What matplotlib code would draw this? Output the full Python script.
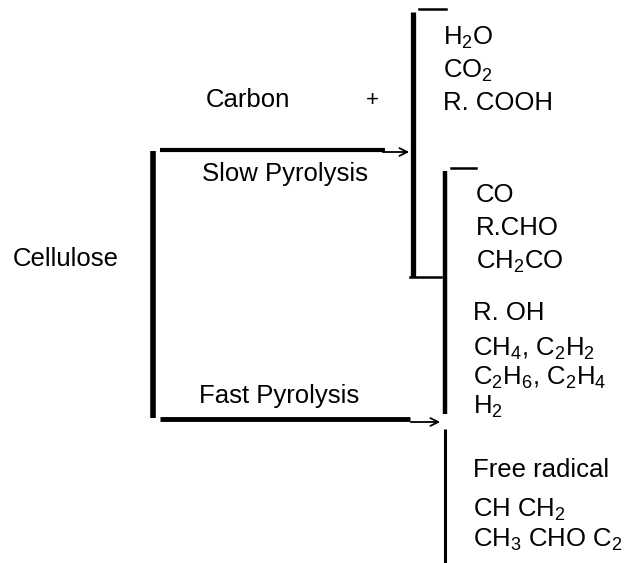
import matplotlib
matplotlib.use("Agg")
import matplotlib.pyplot as plt

plt.rcParams['font.family'] = ['Liberation Sans', 'DejaVu Sans']
plt.rcParams['mathtext.fontset'] = 'custom'
plt.rcParams['mathtext.rm'] = 'Liberation Sans'
plt.rcParams['mathtext.it'] = 'Liberation Sans:italic'
plt.rcParams['mathtext.bf'] = 'Liberation Sans:bold'

# ---- content ----
feedstock = "Cellulose"
routes = ["Slow Pyrolysis", "Fast Pyrolysis"]
slow_solid = "Carbon"
slow_only = [r"H$_{\mathrm{2}}$O", r"CO$_{\mathrm{2}}$", "R. COOH"]
shared = ["CO", "R.CHO", r"CH$_{\mathrm{2}}$CO"]
fast_only = ["R. OH",
             r"CH$_{\mathrm{4}}$, C$_{\mathrm{2}}$H$_{\mathrm{2}}$",
             r"C$_{\mathrm{2}}$H$_{\mathrm{6}}$, C$_{\mathrm{2}}$H$_{\mathrm{4}}$",
             r"H$_{\mathrm{2}}$"]
radical_title = "Free radical"
radicals = [r"CH CH$_{\mathrm{2}}$", r"CH$_{\mathrm{3}}$ CHO C$_{\mathrm{2}}$"]

# ---- layout (pixels) ----
W, H = 638, 563
fig = plt.figure(figsize=(W / 100, H / 100), dpi=100)
ax = fig.add_axes([0, 0, 1, 1])
ax.set_xlim(0, W)
ax.set_ylim(H, 0)
ax.axis('off')

fs = 18.5
k = 'black'

# feedstock
ax.text(13, 259, feedstock, fontsize=fs, va='center', ha='left', color=k)

# left trunk
ax.plot([153, 153], [151, 418], color=k, lw=4, solid_capstyle='butt')
# slow route
ax.plot([160, 385], [150, 150], color=k, lw=3, solid_capstyle='butt')
ax.annotate('', xy=(412, 152), xytext=(380, 152),
            arrowprops=dict(arrowstyle='->', lw=1.3, color=k, mutation_scale=14))
ax.text(285, 174, routes[0], fontsize=fs, va='center', ha='center', color=k)
ax.text(248, 100, slow_solid, fontsize=fs, va='center', ha='center', color=k)
ax.text(372, 101, '+', fontsize=16, va='center', ha='center', color=k)

# fast route
ax.plot([160, 410], [419, 419], color=k, lw=3.5, solid_capstyle='butt')
ax.annotate('', xy=(443, 422), xytext=(408, 422),
            arrowprops=dict(arrowstyle='->', lw=1.3, color=k, mutation_scale=14))
ax.text(279, 396, routes[1], fontsize=fs, va='center', ha='center', color=k)

# slow products bracket
ax.plot([413, 413], [12, 277], color=k, lw=3.8, solid_capstyle='butt')
ax.plot([419, 446], [9, 9], color=k, lw=1.8)
ax.plot([410, 441], [277, 277], color=k, lw=1.8)

# fast products bracket
ax.plot([445, 445], [171, 414], color=k, lw=3.2, solid_capstyle='butt')
ax.plot([445, 445], [429, 563], color=k, lw=2.2, solid_capstyle='butt')
ax.plot([451, 476], [168, 168], color=k, lw=1.8)

# product texts
for s, y in zip(slow_only, [38, 71, 103]):
    ax.text(443, y, s, fontsize=fs, va='center', ha='left', color=k)
for s, y in zip(shared, [195, 228, 262]):
    ax.text(476, y, s, fontsize=fs, va='center', ha='left', color=k)
for s, y in zip(fast_only, [313, 349, 378, 407]):
    ax.text(473, y, s, fontsize=fs, va='center', ha='left', color=k)
ax.text(473, 470, radical_title, fontsize=fs, va='center', ha='left', color=k)
for s, y in zip(radicals, [510, 540]):
    ax.text(473, y, s, fontsize=fs, va='center', ha='left', color=k)

fig.savefig("out.png", dpi=100, facecolor='white')
